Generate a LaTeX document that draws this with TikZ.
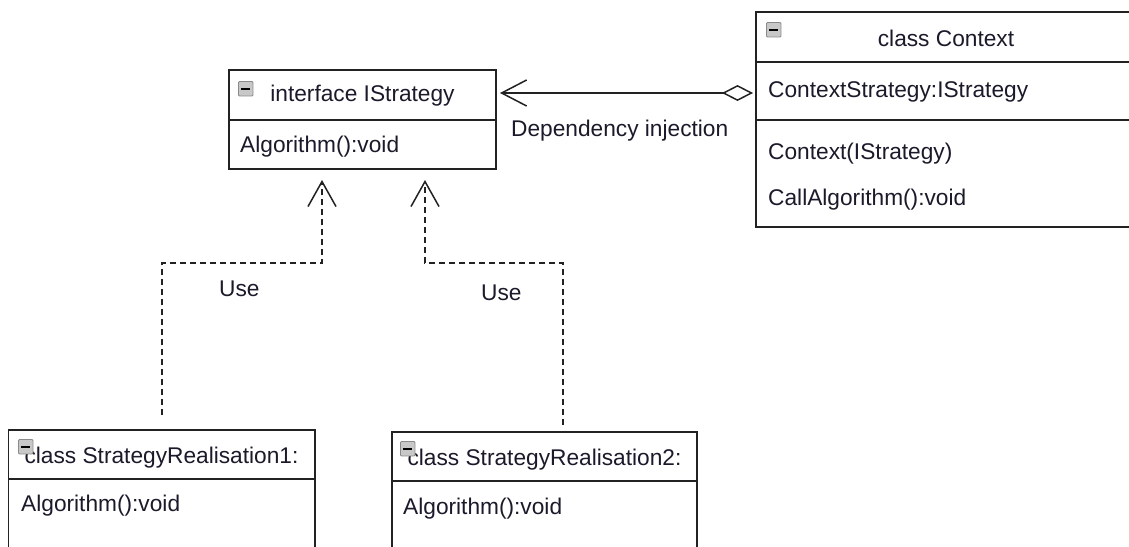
\documentclass[tikz,border=0pt]{standalone}
\usepackage{fontspec}
\setmainfont{Liberation Sans}
\usetikzlibrary{arrows.meta}
\definecolor{ink}{HTML}{222222}
\definecolor{txt}{HTML}{1A1A2A}
\definecolor{iconfill}{HTML}{C8C8C8}
\definecolor{iconedge}{HTML}{8A8A8A}
\begin{document}
\begin{tikzpicture}[x=1pt,y=-1pt,
  umlbox/.style={draw=ink, line width=1.6pt, fill=white, inner sep=0pt, outer sep=0pt, anchor=north west},
  divider/.style={draw=ink, line width=1.6pt},
  lbl/.style={text=txt, font=\fontsize{22.7}{27}\selectfont, inner sep=0pt, anchor=base west},
  ttl/.style={lbl, anchor=base},
  icon/.style={draw=iconedge, fill=iconfill, line width=0.9pt, minimum size=14.5pt, inner sep=0pt, anchor=north west, rounded corners=1pt,
    path picture={\draw[black, line width=1.8pt] ([xshift=-4.5pt]path picture bounding box.center) -- ([xshift=4.5pt]path picture bounding box.center);}},
  dep/.style={draw=ink, line width=1.5pt, dash pattern=on 6pt off 4pt, -{Straight Barb[length=25pt,width=28pt]}},
  assoc/.style={draw=ink, line width=1.5pt, {Straight Barb[length=25pt,width=26pt]}-{Diamond[open,fill=white,length=31pt,width=16pt]}}
]
\useasboundingbox (0,0) rectangle (1129,546);
\clip (0,0) rectangle (1129,546);
\fill[white] (0,0) rectangle (1129,546);

% interface IStrategy
\node[umlbox, minimum width=267pt, minimum height=99pt] (istr) at (229,70) {};
\coordinate (istrdiv) at (0,120);
\draw[divider] (istr.west |- istrdiv) -- (istr.east |- istrdiv);
\node[ttl] (istrt) at (362.5,101) {interface IStrategy};
\node[lbl] (istrm) at (240,152) {Algorithm():void};
\node[icon] (istri) at (238,81) {};

% class Context
\node[umlbox, minimum width=420pt, minimum height=215pt] (ctx) at (756,12) {};
\coordinate (ctxdiv1) at (0,62);
\coordinate (ctxdiv2) at (0,120);
\draw[divider] (ctx.west |- ctxdiv1) -- (ctx.east |- ctxdiv1);
\draw[divider] (ctx.west |- ctxdiv2) -- (ctx.east |- ctxdiv2);
\node[ttl] (ctxt) at (946,46) {class Context};
\node[lbl] (ctxa) at (768,97) {ContextStrategy:IStrategy};
\node[lbl] (ctxm1) at (768,159) {Context(IStrategy)};
\node[lbl] (ctxm2) at (768,205) {CallAlgorithm():void};
\node[icon] (ctxi) at (766,22) {};

% class StrategyRealisation1
\node[umlbox, minimum width=306.5pt, minimum height=200pt] (sr1) at (8.5,430) {};
\coordinate (sr1div) at (0,479);
\draw[divider] (sr1.west |- sr1div) -- (sr1.east |- sr1div);
\node[ttl] (sr1t) at (161.5,463) {class StrategyRealisation1:};
\node[lbl] (sr1m) at (21,511) {Algorithm():void};
\node[icon] (sr1i) at (18,439) {};

% class StrategyRealisation2
\node[umlbox, minimum width=305pt, minimum height=200pt] (sr2) at (392,432) {};
\coordinate (sr2div) at (0,481);
\draw[divider] (sr2.west |- sr2div) -- (sr2.east |- sr2div);
\node[ttl] (sr2t) at (544.5,465) {class StrategyRealisation2:};
\node[lbl] (sr2m) at (403,514) {Algorithm():void};
\node[icon] (sr2i) at (400,441) {};

% dependency injection (aggregation)
\coordinate (hline) at (0,93);
\draw[assoc, shorten <=4pt, shorten >=3pt] (istr.east |- hline) -- (ctx.west |- hline);
\node[lbl] (dilbl) at (511,136) {Dependency injection};

% Use connectors
\coordinate (u1) at (322,263);
\coordinate (d1) at (162,263);
\draw[dep, shorten <=15pt, shorten >=11pt] (sr1.north -| d1) -- (d1) -- (u1) -- (istr.south -| u1);
\node[lbl] (use1) at (219,296) {Use};

\coordinate (u2) at (425,263);
\coordinate (d2) at (563,263);
\draw[dep, shorten <=7pt, shorten >=11pt] (sr2.north -| d2) -- (d2) -- (u2) -- (istr.south -| u2);
\node[lbl] (use2) at (481,300) {Use};
\end{tikzpicture}
\end{document}
